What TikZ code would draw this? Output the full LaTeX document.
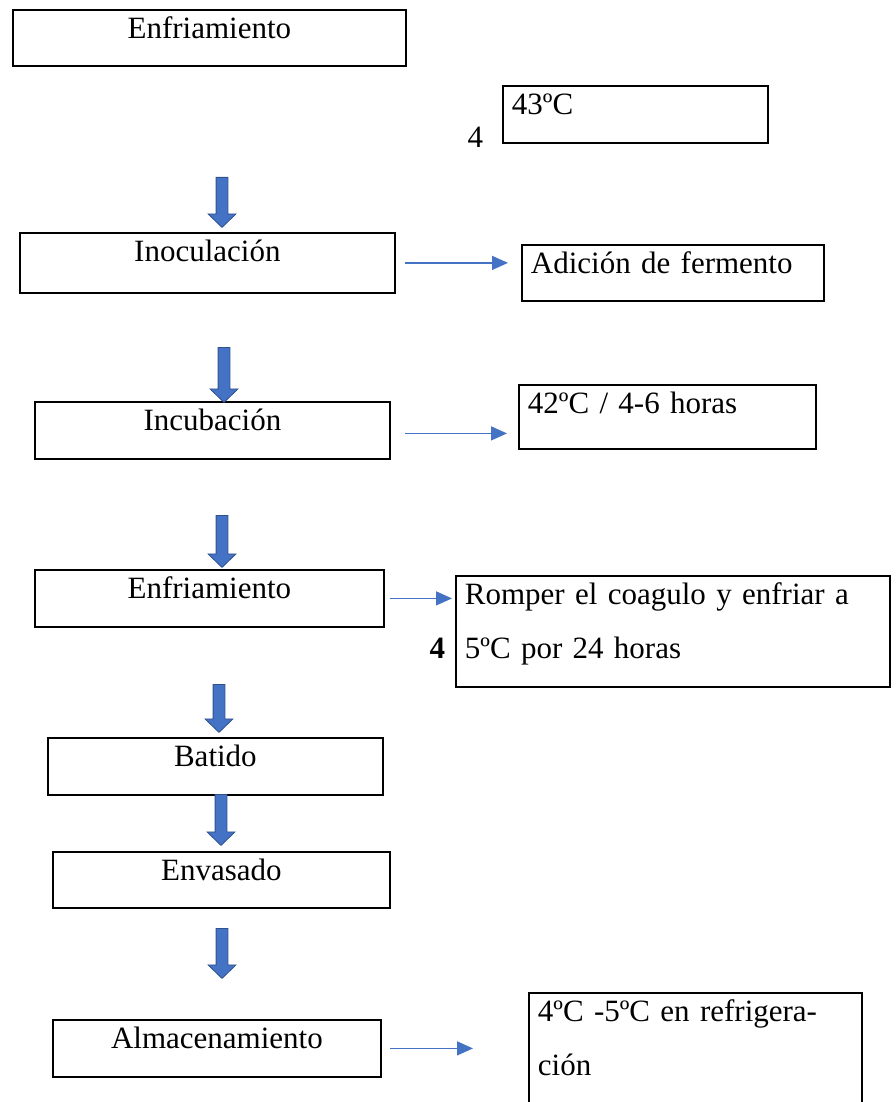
\documentclass[tikz,border=0pt]{standalone}
\usepackage{fontspec}
\setmainfont{Liberation Serif}
\usetikzlibrary{positioning,shapes.arrows,arrows.meta}

\definecolor{flowblue}{HTML}{4472C4}
\definecolor{flowdark}{HTML}{2F528F}

\begin{document}
\begin{tikzpicture}[x=1pt, y=-1pt,
	stage/.style = {shape=rectangle, draw, line width=1.8pt, anchor=north west,
		inner xsep=9pt, inner ysep=6pt, text height=23pt,
		font=\fontsize{31}{54}\selectfont},
	bigdown/.style = {single arrow, draw=flowdark, fill=flowblue, line width=0.8pt,
		rotate=-90, anchor=tail, inner xsep=0pt, inner ysep=5.5pt,
		single arrow head extend=8pt, single arrow tip angle=92, minimum height=#1},
	flow/.style = {draw=flowblue, line width=1.4pt, -{Triangle[length=16pt, width=14pt]}}]
	\clip (0,0) rectangle (895,1102);
	\useasboundingbox (0,0) rectangle (895,1102);
	% process steps
	\node[stage, text width=375pt, text depth=21pt, align=center] (enfA) at (12,9) {Enfriamiento};
	\node[stage, text width=357pt, text depth=25pt, align=center] (inoc) at (19,232) {Inoculación};
	\node[stage, text width=337pt, text depth=22pt, align=center] (incub) at (34,401) {Incubación};
	\node[stage, text width=331pt, text depth=22pt, align=center] (enfB) at (34,569) {Enfriamiento};
	\node[stage, text width=317pt, text depth=22pt, align=center] (batido) at (47,737) {Batido};
	\node[stage, text width=319pt, text depth=21pt, align=center] (envas) at (52,851) {Envasado};
	\node[stage, text width=310pt, text depth=22pt, align=center] (almac) at (52,1019) {Almacenamiento};
	% conditions
	\node[stage, text width=247pt, text depth=22pt, align=left] (temp) at (502,85) {43ºC};
	\node[stage, text width=284pt, text depth=21pt, align=left] (adic) at (521,244) {Adición de fermento};
	\node[stage, text width=279pt, text depth=29pt, align=left] (incT) at (518,384) {42ºC / 4-6 horas};
	\node[stage, text width=416pt, text depth=76pt, align=left] (romper) at (455,575)
		{Romper el coagulo y enfriar a\\5ºC por 24 horas};
	\node[stage, text width=315pt, text depth=85pt, align=left] (refrig) at (528,992)
		{4ºC -5ºC en refrigera-\\ción};
	\node[anchor=base west, font=\fontsize{31}{36}\selectfont] (numA) at (464,148) {4};
	\node[anchor=base west, font=\fontsize{31}{36}\selectfont\bfseries] (numB) at (426,658) {4};
	% block arrows
	\node[bigdown=50pt] (dA) at (222,177) {};
	\node[bigdown=55pt] (dB) at (224,347) {};
	\node[bigdown=52pt] (dC) at (222,515) {};
	\node[bigdown=48pt] (dD) at (219,684) {};
	\node[bigdown=51pt] (dE) at (221,794) {};
	\node[bigdown=50pt] (dF) at (222,928) {};
	% side arrows
	\draw[flow, shorten <=9pt, shorten >=13pt] (inoc.east) -- (inoc.east -| adic.west);
	\draw[flow, shorten <=14pt, shorten >=11pt] ([yshift=-3pt]incub.east) -- ([yshift=-3pt]incub.east -| incT.west);
	\draw[flow, shorten <=5pt, shorten >=3pt] (enfB.east) -- (enfB.east -| romper.west);
	\draw[flow, shorten <=8pt, shorten >=55pt] (almac.east) -- (almac.east -| refrig.west);
\end{tikzpicture}
\end{document}
